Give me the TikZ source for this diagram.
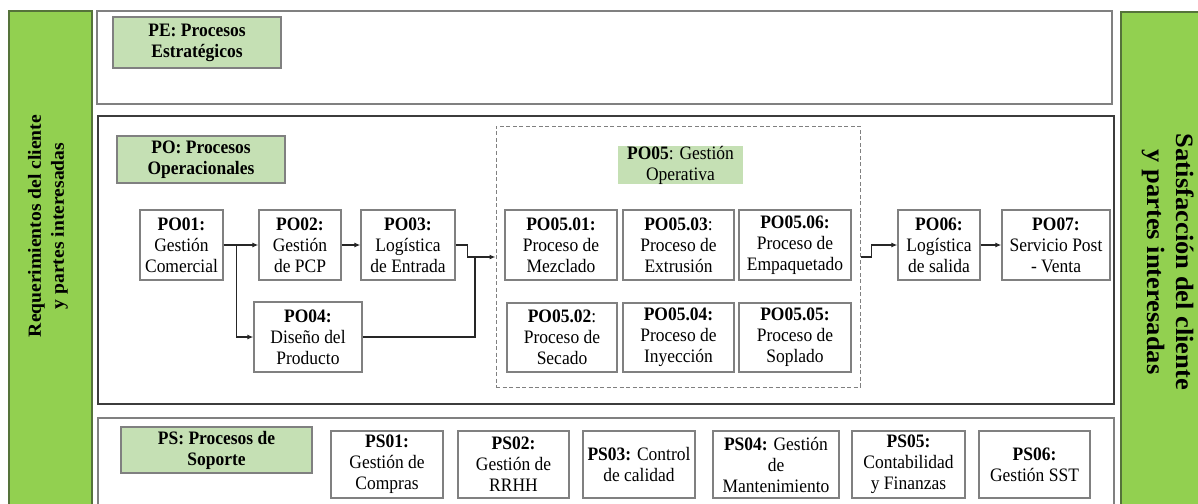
\documentclass[tikz,border=0pt]{standalone}
\usepackage{fontspec}
\setmainfont{Liberation Serif}
% narrow face for box texts, wide face for the vertical side texts
\newfontfamily\boxface{Liberation Serif}[FakeStretch=0.92]
\newfontfamily\sideface{Liberation Serif}[FakeStretch=1.06]
\usetikzlibrary{arrows.meta,calc}
\definecolor{bargreen}{HTML}{92D050}
\definecolor{baredge}{HTML}{55733A}
\definecolor{labgreen}{HTML}{C5E0B4}
\definecolor{edgegray}{HTML}{808080}
\definecolor{darkedge}{HTML}{3C3C3C}

\begin{document}
\begin{tikzpicture}[x=1pt,y=-1pt,
  txt/.style={font=\boxface\fontsize{19}{21}\selectfont, align=center, inner sep=0pt},
  procbox/.style={txt, draw=edgegray, line width=1.3pt, fill=white},
  lab/.style={txt, draw=edgegray, line width=1.3pt, fill=labgreen,
    font=\boxface\fontsize{19}{21}\selectfont\bfseries},
  frame/.style={draw=edgegray, line width=1.3pt, inner sep=0pt},
  sidebar/.style={draw=baredge, line width=1.3pt, fill=bargreen, inner sep=0pt},
  link/.style={line width=1.3pt, draw=black!85},
  arr/.style={link, -{Latex[length=6pt,width=5pt]}},
]
\clip (0,0) rectangle (1198,503);
\fill[white] (0,0) rectangle (1198,503);

% side bars
\node[sidebar, minimum width=83pt, minimum height=495pt] (inbar) at (50.5,258.5) {};
\node[sidebar, minimum width=80pt, minimum height=494pt] (outbar) at (1161,259) {};
\node[rotate=90, align=center, font=\sideface\fontsize{18.5}{23}\selectfont\bfseries] (intext) at (48,226)
  {Requerimientos del cliente\\y partes interesadas};
\node[rotate=-90, align=center, font=\sideface\fontsize{25}{29}\selectfont\bfseries] (outtext) at (1168,262)
  {Satisfacción del cliente\\y partes interesadas};

% process frames
\node[frame, minimum width=1015pt, minimum height=93pt] (pe) at (604.5,57.5) {};
\node[frame, draw=darkedge, minimum width=1016pt, minimum height=288pt] (po) at (606,260) {};
\node[frame, minimum width=1016pt, minimum height=92pt] (ps) at (606,464) {};

% frame titles
\node[lab, minimum width=168pt, minimum height=51pt] (pelab) at (197,42.5) {PE: Procesos\\Estratégicos};
\node[lab, minimum width=168pt, minimum height=47pt] (polab) at (201,159.5) {PO: Procesos\\Operacionales};
\node[lab, minimum width=191pt, minimum height=46pt] (pslab) at (216.5,450) {PS: Procesos de\\Soporte};

% operative group
\node[draw=edgegray, line width=1pt, dash pattern=on 4pt off 2.5pt, minimum width=364pt,
  minimum height=261pt, inner sep=0pt] (po05box) at (678,256.5) {};
\node[txt, fill=labgreen, minimum width=125pt, minimum height=38pt] (po05lab) at (680.5,165)
  {\textbf{PO05}: Gestión\\Operativa};

% operational processes, first row
\node[procbox, minimum width=83pt, minimum height=70pt] (po01) at (181.5,245) {\textbf{PO01:}\\Gestión\\Comercial};
\node[procbox, minimum width=82pt, minimum height=70pt] (po02) at (300,245) {\textbf{PO02:}\\Gestión\\de PCP};
\node[procbox, minimum width=94pt, minimum height=70pt] (po03) at (408,245) {\textbf{PO03:}\\Logística\\de Entrada};
\node[procbox, minimum width=112pt, minimum height=70pt] (po0501) at (561,245) {\textbf{PO05.01:}\\Proceso de\\Mezclado};
\node[procbox, minimum width=111pt, minimum height=70pt] (po0503) at (678.5,245) {\textbf{PO05.03}:\\Proceso de\\Extrusión};
\node[procbox, minimum width=112pt, minimum height=70pt] (po0506) at (795,245) {\textbf{PO05.06:}\\Proceso de\\Empaquetado};
\node[procbox, minimum width=82pt, minimum height=70pt] (po06) at (939,245) {\textbf{PO06:}\\Logística\\de salida};
\node[procbox, minimum width=108pt, minimum height=70pt] (po07) at (1056,245) {\textbf{PO07:}\\Servicio Post\\- Venta};

% operational processes, second row
\node[procbox, minimum width=108pt, minimum height=70pt] (po04) at (308,337) {\textbf{PO04:}\\Diseño del\\Producto};
\node[procbox, minimum width=110pt, minimum height=69pt] (po0502) at (562,337.5) {\textbf{PO05.02}:\\Proceso de\\Secado};
\node[procbox, minimum width=111pt, minimum height=69pt] (po0504) at (678.5,337.5) {\textbf{PO05.04:}\\Proceso de\\Inyección};
\node[procbox, minimum width=112pt, minimum height=69pt] (po0505) at (795,337.5) {\textbf{PO05.05:}\\Proceso de\\Soplado};

% support processes
\node[procbox, minimum width=112pt, minimum height=67pt] (ps01) at (387,464.5) {\textbf{PS01:}\\Gestión de\\Compras};
\node[procbox, minimum width=111pt, minimum height=67pt] (ps02) at (513.5,464.5) {\textbf{PS02:}\\Gestión de\\RRHH};
\node[procbox, minimum width=112pt, minimum height=67pt] (ps03) at (639,464.5) {\textbf{PS03:} Control\\de calidad};
\node[procbox, minimum width=126pt, minimum height=67pt] (ps04) at (776,464.5) {\textbf{PS04:} Gestión\\de\\Mantenimiento};
\node[procbox, minimum width=113pt, minimum height=67pt] (ps05) at (908.5,464.5) {\textbf{PS05:}\\Contabilidad\\y Finanzas};
\node[procbox, minimum width=111pt, minimum height=67pt] (ps06) at (1034.5,464.5) {\textbf{PS06:}\\Gestión SST};

% flow between operational processes
\coordinate (mrg) at (475,257);
\coordinate (po05in) at (po05box.west |- mrg);
\coordinate (po05out) at (po05box.east |- mrg);
\draw[arr] (po01.east) -- (po02.west);
\draw[arr] (po01.east) -- ++(13,0) |- (po04.west);
\draw[arr] (po02.east) -- (po03.west);
\draw[link] (po03.east) -- ++(12,0) |- (mrg);
\draw[link] (po04.east) -| (mrg);
\draw[arr] (mrg) -- (po05in);
\draw[arr] (po05out) -- ++(11,0) |- (po06.west);
\draw[arr] (po06.east) -- (po07.west);
\end{tikzpicture}
\end{document}
